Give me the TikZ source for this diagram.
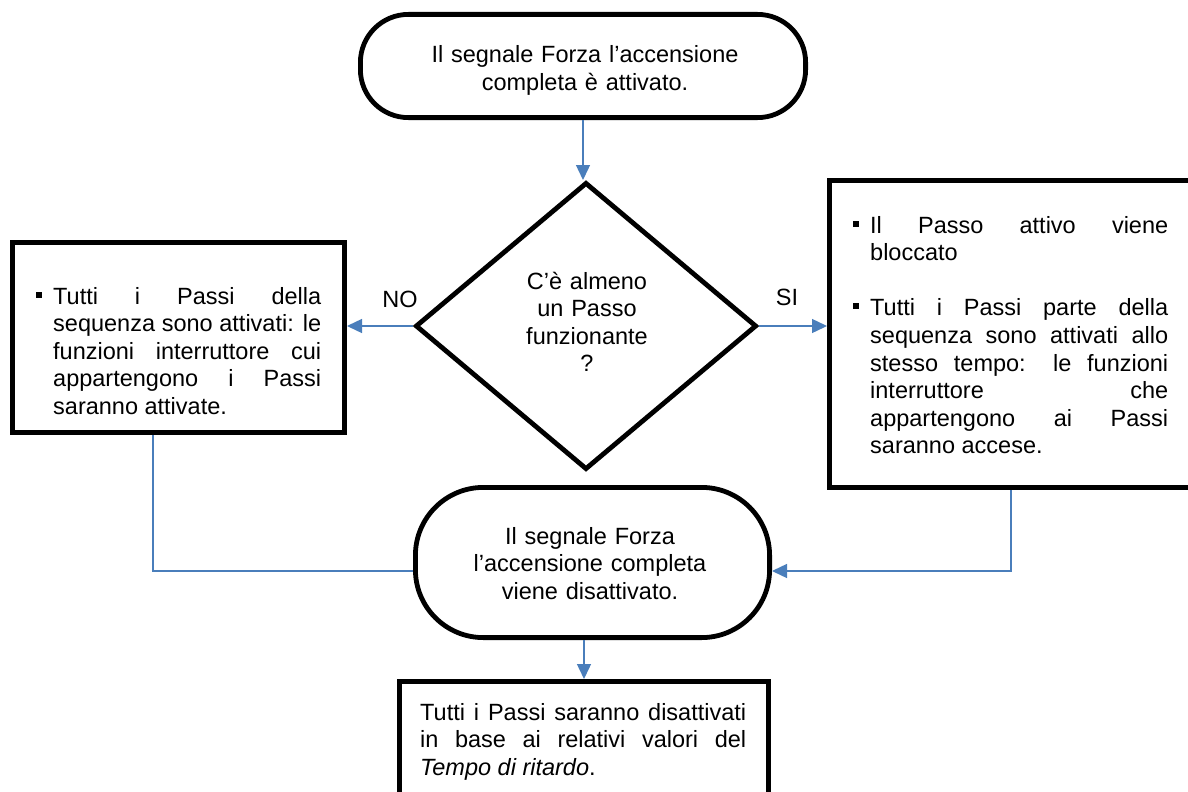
\documentclass[tikz,border=0pt]{standalone}
\usepackage{fontspec}
\setmainfont{Liberation Sans}
\usetikzlibrary{shapes.geometric,arrows.meta}
\definecolor{flowblue}{RGB}{74,126,187}
% small square bullet hanging to the left of the paragraph
\newcommand\sqbullet{\leavevmode\llap{\rule[6.5pt]{6pt}{6pt}\hspace{11pt}}}
\tolerance=10000
\hbadness=10000
\begin{document}
\begin{tikzpicture}[x=1pt,y=-1pt,
  every node/.style={inner sep=0pt},
  shapeline/.style={draw=black,line width=4.8pt},
  terminal/.style={shapeline,rectangle},
  procbox/.style={shapeline,rectangle},
  decision/.style={shapeline,diamond},
  txt/.style={font=\fontsize{23.5}{27.6}\selectfont},
  ctext/.style={txt,align=center,anchor=base},
  jtext/.style={txt,align=justify,anchor=base west},
  link/.style={draw=flowblue,line width=1.4pt},
  flow/.style={link,-{Triangle[length=15pt,width=14pt]}},
]
\useasboundingbox (0,0) rectangle (1188,792);
\clip (0,0) rectangle (1188,792);

% shapes
\node[terminal, rounded corners=48pt, minimum width=445.2pt, minimum height=103.2pt] (start) at (583,66) {};
\node[decision, minimum width=341.2pt, minimum height=287.2pt] (check) at (586,326) {};
\node[procbox, minimum width=332.2pt, minimum height=190.2pt] (allon) at (178.5,337.5) {};
\node[procbox, minimum width=363.2pt, minimum height=307.2pt] (blocked) at (1011,334) {};
\node[terminal, rounded corners=68pt, minimum width=354.2pt, minimum height=150.2pt] (reset) at (592.5,562.5) {};
\node[procbox, minimum width=369.2pt, minimum height=216pt] (delay) at (584,789.4) {};

% texts
\node[ctext, text width=420pt] (starttext) at (585,63)
  {Il segnale Forza l’accensione\\completa è attivato.};
\node[ctext, text width=250pt] (checktext) at (587,289)
  {C’è almeno\\un Passo\\funzionante\\?};
\node[ctext, text width=330pt] (resettext) at (590,544)
  {Il segnale Forza\\l’accensione completa\\viene disattivato.};
\node[jtext, text width=268pt] (allontext) at (53,304)
  {\sqbullet Tutti i Passi della\linebreak sequenza sono attivati: le\linebreak
   funzioni interruttore cui\linebreak appartengono i Passi\linebreak saranno attivate.};
\node[jtext, text width=298pt] (blockedtext) at (870,233)
  {\sqbullet Il Passo attivo viene\linebreak bloccato\par\vspace{27.6pt}%
   \sqbullet Tutti i Passi parte della\linebreak sequenza sono attivati allo\linebreak
   stesso tempo: le funzioni\linebreak interruttore che\linebreak
   appartengono ai Passi\linebreak saranno accese.};
\node[jtext, text width=326pt] (delaytext) at (420,720)
  {Tutti i Passi saranno disattivati\linebreak in base ai relativi valori del\linebreak
   \textit{Tempo di ritardo}.};

% branch labels
\node[txt] (nolabel) at (400,299.5) {NO};
\node[txt] (silabel) at (787,297.5) {SI};

% connectors
\draw[flow] (start.south) -- (start.south |- check.north);
\draw[flow] (check.west) -- (check.west -| allon.east);
\draw[flow] (check.east) -- (check.east -| blocked.west);
\draw[link] ([xshift=-25.5pt]allon.south) |- ([yshift=-8.5pt]reset.west);
\draw[flow] (blocked.south) |- ([yshift=-8.5pt]reset.east);
\draw[flow] (reset.south -| delay.north) -- (delay.north);
\end{tikzpicture}
\end{document}
